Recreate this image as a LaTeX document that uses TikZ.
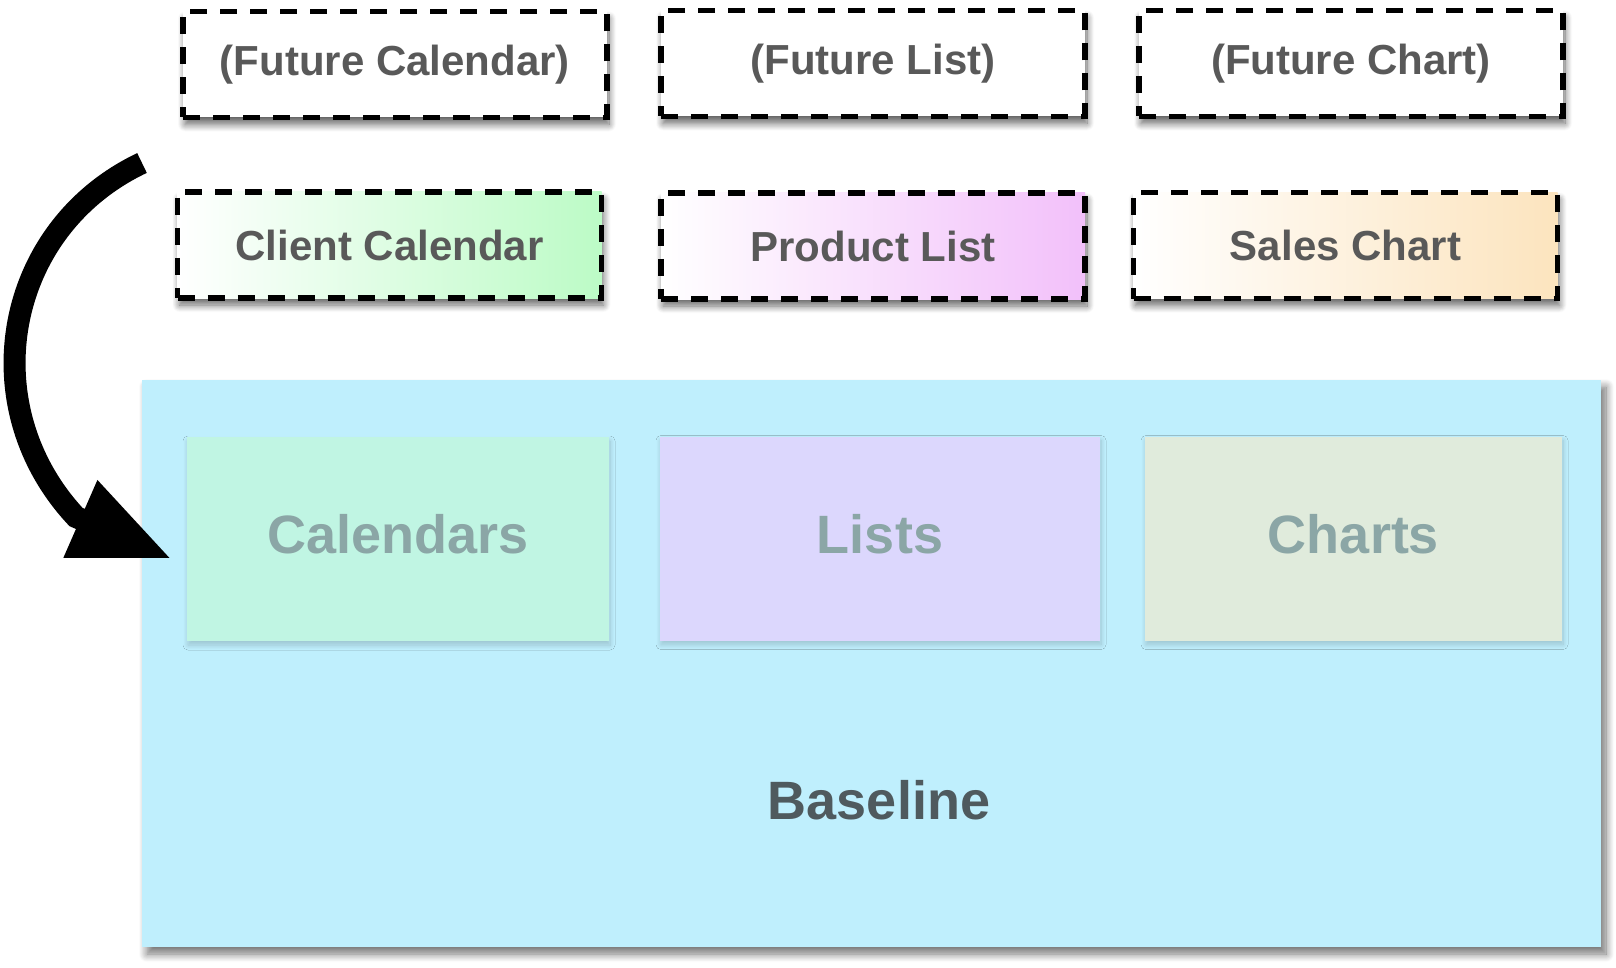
\documentclass[tikz,border=0pt]{standalone}
\usepackage{fontspec}
\setmainfont{Liberation Sans}
\usetikzlibrary{arrows.meta,shadows.blur}
\definecolor{basefill}{HTML}{BFEFFD}
\definecolor{calfill}{HTML}{C0F5E3}
\definecolor{listfill}{HTML}{DCD7FD}
\definecolor{chartfill}{HTML}{E0EBDC}
\definecolor{calgrad}{HTML}{BCFBC6}
\definecolor{listgrad}{HTML}{F2C0FA}
\definecolor{chartgrad}{HTML}{FCE4BE}
\definecolor{darktext}{HTML}{595959}
\definecolor{innertext}{HTML}{8BA6A6}
\definecolor{basetext}{HTML}{4F5A5E}
\tikzset{
  dashbox/.style={draw=black, line width=2.8pt, dash pattern=on 8.5pt off 6.5pt,
    minimum width=212pt, minimum height=53pt, inner sep=0pt,
    font=\fontsize{21}{25}\selectfont\bfseries, text=darktext,
    blur shadow={shadow xshift=1pt, shadow yshift=-3.5pt, shadow blur radius=3.5pt, shadow blur steps=10, shadow opacity=60}},
  innerbox/.style={draw=none, minimum height=102pt, inner sep=0pt,
    font=\fontsize{27}{32}\selectfont\bfseries, text=innertext,
    blur shadow={shadow xshift=0.5pt, shadow yshift=-2pt, shadow blur radius=2.5pt, shadow blur steps=10, shadow opacity=18}},
  basebox/.style={draw=none, fill=basefill, minimum width=729.5pt, minimum height=283.5pt, inner sep=0pt,
    blur shadow={shadow xshift=2.5pt, shadow yshift=-3.5pt, shadow blur radius=4pt, shadow blur steps=10, shadow opacity=55}},
  bigarrow/.style={line width=11pt, -{Triangle[length=50pt, width=39pt]}}
}
\begin{document}
\begin{tikzpicture}[x=0.5pt, y=-0.5pt]
\useasboundingbox (0,0) rectangle (1616,968);
% top row
\node[dashbox, fill=white] (fcal) at (395,64.5) {(Future Calendar)};
\node[dashbox, fill=white] (flist) at (873,63.5) {(Future List)};
\node[dashbox, fill=white] (fchart) at (1351,63.5) {(Future Chart)};
% second row
\node[dashbox, left color=white, right color=calgrad] (ccal) at (389.5,245) {Client Calendar};
\node[dashbox, left color=white, right color=listgrad] (plist) at (873,246) {Product List};
\node[dashbox, left color=white, right color=chartgrad] (schart) at (1345.5,245.5) {Sales Chart};
% baseline
\node[basebox] (base) at (871.5,663.5) {};
\node[font=\fontsize{27}{32}\selectfont\bfseries, text=basetext] (baselabel) at (879,800) {Baseline};
\node[innerbox, fill=calfill, minimum width=211pt] (cals) at (398,539) {\raisebox{5pt}{Calendars}};
\node[innerbox, fill=listfill, minimum width=220pt] (lists) at (880,538.5) {\raisebox{5pt}{Lists}};
\node[innerbox, fill=chartfill, minimum width=208.5pt] (charts) at (1353.5,538.5) {\raisebox{5pt}{Charts}};
% arrow
\coordinate (astart) at (142,163);
\coordinate (abend) at (76,517);
\coordinate (atip) at (172,559);
\draw[bigarrow] (astart) .. controls (4,228.5) and (-28,405.6) .. (abend) -- (atip);
\end{tikzpicture}
\end{document}
